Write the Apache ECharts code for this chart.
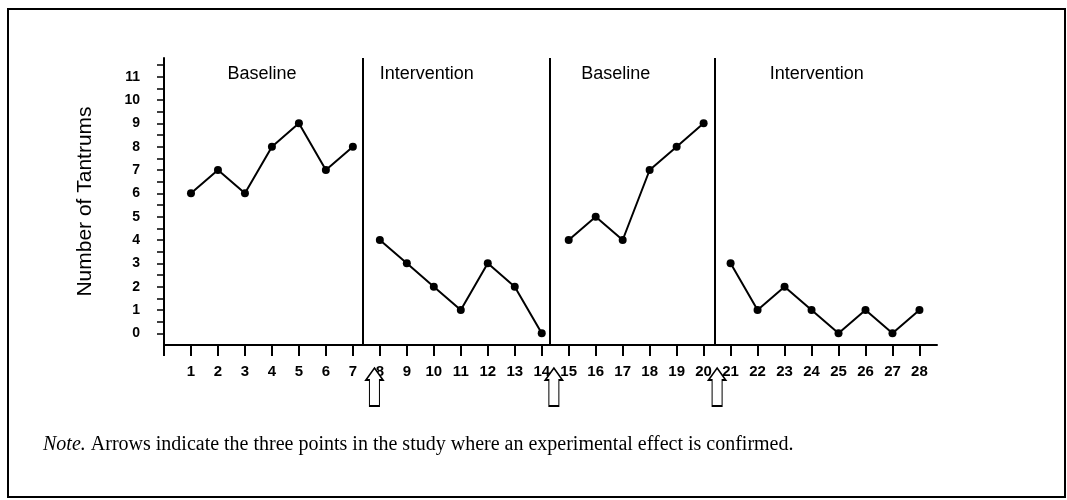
<!DOCTYPE html>
<html>
<head>
<meta charset="utf-8">
<script src="https://cdn.jsdelivr.net/npm/echarts@6/dist/echarts.min.js"></script>
<style>
    html, body { margin: 0; padding: 0; background: #fff; }
    #chart { width: 1067px; height: 500px; }
</style>
</head>
<body>
<div id="chart"></div>
<script>
// sessions and tantrum counts, one list per phase
var phaseNames = ['Baseline', 'Intervention', 'Baseline', 'Intervention'];
var phaseSessions = [
    [1, 2, 3, 4, 5, 6, 7],
    [8, 9, 10, 11, 12, 13, 14],
    [15, 16, 17, 18, 19, 20],
    [21, 22, 23, 24, 25, 26, 27, 28]
];
var phaseValues = [
    [6, 7, 6, 8, 9, 7, 8],
    [4, 3, 2, 1, 3, 2, 0],
    [4, 5, 4, 7, 8, 9],
    [3, 1, 2, 1, 0, 1, 0, 1]
];
// phase change lines and the arrows (experimental effect confirmed)
var phaseChanges = [7.35, 14.3, 20.4];
var confirmedAt = [7.8, 14.45, 20.5];

var xTickLabels = [1, 2, 3, 4, 5, 6, 7, 8, 9, 10, 11, 12, 13, 14, 15, 16, 17, 18, 19, 20, 21, 22, 23, 24, 25, 26, 27, 28];
var yTickLabels = [0, 1, 2, 3, 4, 5, 6, 7, 8, 9, 10, 11];

// where the phase titles sit (layout only)
var phaseLabelX = [3.63, 9.74, 16.74, 24.19];
var phaseLabelY = 11.1;
var arrowY = -2.3;

var dom = document.getElementById('chart');
var myChart = echarts.init(dom);

var xTicks = [0].concat(xTickLabels);
var yTicks = [];
yTickLabels.forEach(function (v) {
    yTicks.push(v);
    yTicks.push(v + 0.5);
});

var series = [];
phaseValues.forEach(function (vals, i) {
    var s = {
        name: phaseNames[i],
        type: 'line',
        data: vals.map(function (v, j) { return [phaseSessions[i][j], v]; }),
        symbol: 'circle',
        symbolSize: 8,
        lineStyle: { color: '#000', width: 2 },
        itemStyle: { color: '#000' },
        animation: false,
        z: 3
    };
    if (i === 0) {
        s.markLine = {
            silent: true,
            symbol: ['none', 'none'],
            label: { show: false },
            lineStyle: { color: '#000', width: 2, type: 'solid' },
            data: phaseChanges.map(function (x) { return { xAxis: x }; })
        };
    }
    series.push(s);
});

series.push({
    name: 'phases',
    type: 'scatter',
    symbolSize: 1,
    silent: true,
    animation: false,
    itemStyle: { color: 'transparent', opacity: 1 },
    data: phaseNames.map(function (n, i) { return { name: n, value: [phaseLabelX[i], phaseLabelY] }; }),
    label: {
        show: true,
        position: 'inside',
        formatter: '{b}',
        color: '#000',
        opacity: 1,
        textBorderWidth: 0,
        fontFamily: 'Liberation Sans',
        fontSize: 18
    }
});

series.push({
    name: 'confirmed',
    type: 'scatter',
    clip: false,
    silent: true,
    animation: false,
    symbol: 'path://M8.5 0 L17 12 L13.5 12 L13.5 38 L3.5 38 L3.5 12 L0 12 Z',
    symbolSize: [17, 38],
    itemStyle: { color: '#fff', borderColor: '#000', borderWidth: 1.5, opacity: 1 },
    data: confirmedAt.map(function (x) { return [x, arrowY]; }),
    z: 5
});

var option = {
    backgroundColor: '#fff',
    animation: false,
    grid: { left: 164, right: 130, top: 58, bottom: 155 },
    xAxis: {
        type: 'value',
        min: 0,
        max: 28.65,
        splitLine: { show: false },
        axisLine: { onZero: false, lineStyle: { color: '#000', width: 2 } },
        axisTick: { length: 11, lineStyle: { color: '#000', width: 2 }, customValues: xTicks },
        axisLabel: {
            customValues: xTickLabels,
            margin: 19,
            color: '#000',
            fontFamily: 'Liberation Sans',
            fontWeight: 'bold',
            fontSize: 15
        }
    },
    yAxis: {
        type: 'value',
        min: -0.5,
        max: 11.8,
        name: 'Number of Tantrums',
        nameLocation: 'middle',
        nameGap: 68,
        nameTextStyle: { color: '#000', fontFamily: 'Liberation Sans', fontSize: 21 },
        splitLine: { show: false },
        axisLine: { lineStyle: { color: '#000', width: 2 } },
        axisTick: { length: 7, lineStyle: { color: '#000', width: 1.5 }, customValues: yTicks },
        axisLabel: {
            customValues: yTickLabels,
            margin: 24,
            color: '#000',
            fontFamily: 'Liberation Sans',
            fontWeight: 'bold',
            fontSize: 14
        }
    },
    graphic: [
        {
            type: 'rect',
            shape: { x: 8, y: 9, width: 1057, height: 488 },
            style: { fill: 'none', stroke: '#000', lineWidth: 2 },
            silent: true
        },
        {
            type: 'text',
            x: 43,
            y: 445,
            style: {
                text: '{i|Note.} Arrows indicate the three points in the study where an experimental effect is confirmed.',
                fill: '#000',
                fontFamily: 'Liberation Serif',
                fontSize: 20,
                verticalAlign: 'middle',
                rich: {
                    i: { fontStyle: 'italic', fontFamily: 'Liberation Serif', fontSize: 20, fill: '#000' }
                }
            },
            silent: true
        }
    ],
    series: series
};

if (option && typeof option === "object") {
    myChart.setOption(option, true);
}
</script>
</body>
</html>
